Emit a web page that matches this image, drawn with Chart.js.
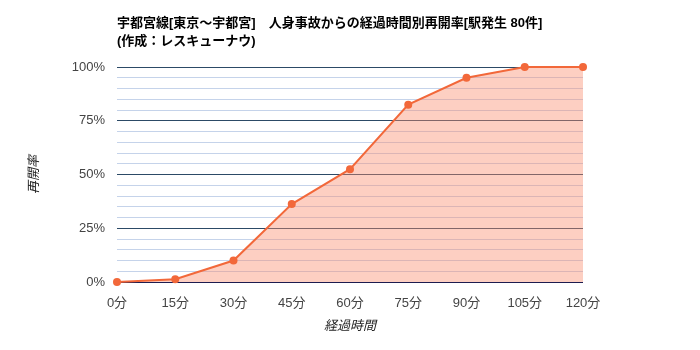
<!DOCTYPE html>
<html>
<head>
<meta charset="utf-8">
<script src="https://cdn.jsdelivr.net/npm/chart.js@4"></script>
<style>
  body { margin: 0; background: #fff; }
  #wrap { width: 700px; height: 350px; }
</style>
</head>
<body>
<div id="wrap"><canvas id="reopenChart" width="700" height="350"></canvas></div>
<script>
// elapsed minutes and re-open rate (%)
const minutes = [0, 15, 30, 45, 60, 75, 90, 105, 120];
const reopenRate = [0, 1.25, 10, 36.25, 52.5, 82.5, 95, 100, 100];
const titleLines = ["宇都宮線[東京～宇都宮]　人身事故からの経過時間別再開率[駅発生 80件]", "(作成：レスキューナウ)"];
const xTitle = "経過時間";
const yTitle = "再開率";

const FONT = "'Liberation Sans', Arial, 'Noto Sans CJK JP', sans-serif";

// title drawn at chart area left, like the original
const titlePlugin = {
    id: "topTitle",
    afterDraw(chart) {
        const ctx = chart.ctx;
        ctx.save();
        ctx.font = "bold 13px " + FONT;
        ctx.fillStyle = "#000";
        ctx.textBaseline = "middle";
        ctx.textAlign = "left";
        titleLines.forEach((t, i) => ctx.fillText(t, chart.chartArea.left, 23 + i * 18));
        ctx.restore();
    },
};

const ctx = document.getElementById("reopenChart").getContext("2d");
window.reopenChart = new Chart(ctx, {
    type: "line",
    data: {
        datasets: [
            {
                data: minutes.map((m, i) => ({ x: m, y: reopenRate[i] })),
                borderColor: "#f2683a",
                backgroundColor: "rgba(251, 140, 110, 0.42)",
                borderWidth: 2,
                fill: "origin",
                tension: 0,
                clip: false,
                pointRadius: 4,
                pointBackgroundColor: "#f2683a",
                pointBorderWidth: 0,
            },
        ],
    },
    options: {
        responsive: false,
        animation: false,
        layout: { padding: { top: 67, right: 117, left: 0, bottom: 0 } },
        plugins: { legend: { display: false }, tooltip: { enabled: false } },
        scales: {
            x: {
                type: "linear",
                min: 0,
                max: 120,
                afterFit: (s) => { s.height = 68; },
                grid: { display: false },
                border: { display: false },
                ticks: {
                    stepSize: 15,
                    padding: 6,
                    color: "#444",
                    font: { size: 13, family: FONT },
                    callback: (v) => v + "分",
                },
                title: {
                    display: true,
                    text: xTitle,
                    color: "#222",
                    font: { size: 13, style: "italic", family: FONT },
                    padding: { top: 0, bottom: 16 },
                },
            },
            y: {
                min: 0,
                max: 100,
                afterFit: (s) => { s.width = 117; },
                border: { display: false },
                grid: {
                    drawTicks: false,
                    color: (c) => {
                        if (c.tick.value === 0) return "#1c1c50";
                        return c.tick.value % 25 === 0 ? "#2c4a66" : "#c5d3ea";
                    },
                },
                ticks: {
                    stepSize: 5,
                    autoSkip: false,
                    padding: 12,
                    color: "#444",
                    font: { size: 13, family: FONT },
                    callback: (v) => (v % 25 === 0 ? v + "%" : ""),
                },
                title: {
                    display: true,
                    text: yTitle,
                    color: "#222",
                    font: { size: 13, style: "italic", family: FONT },
                    padding: { top: 27, bottom: 0 },
                },
            },
        },
    },
    plugins: [titlePlugin],
});
</script>
</body>
</html>
